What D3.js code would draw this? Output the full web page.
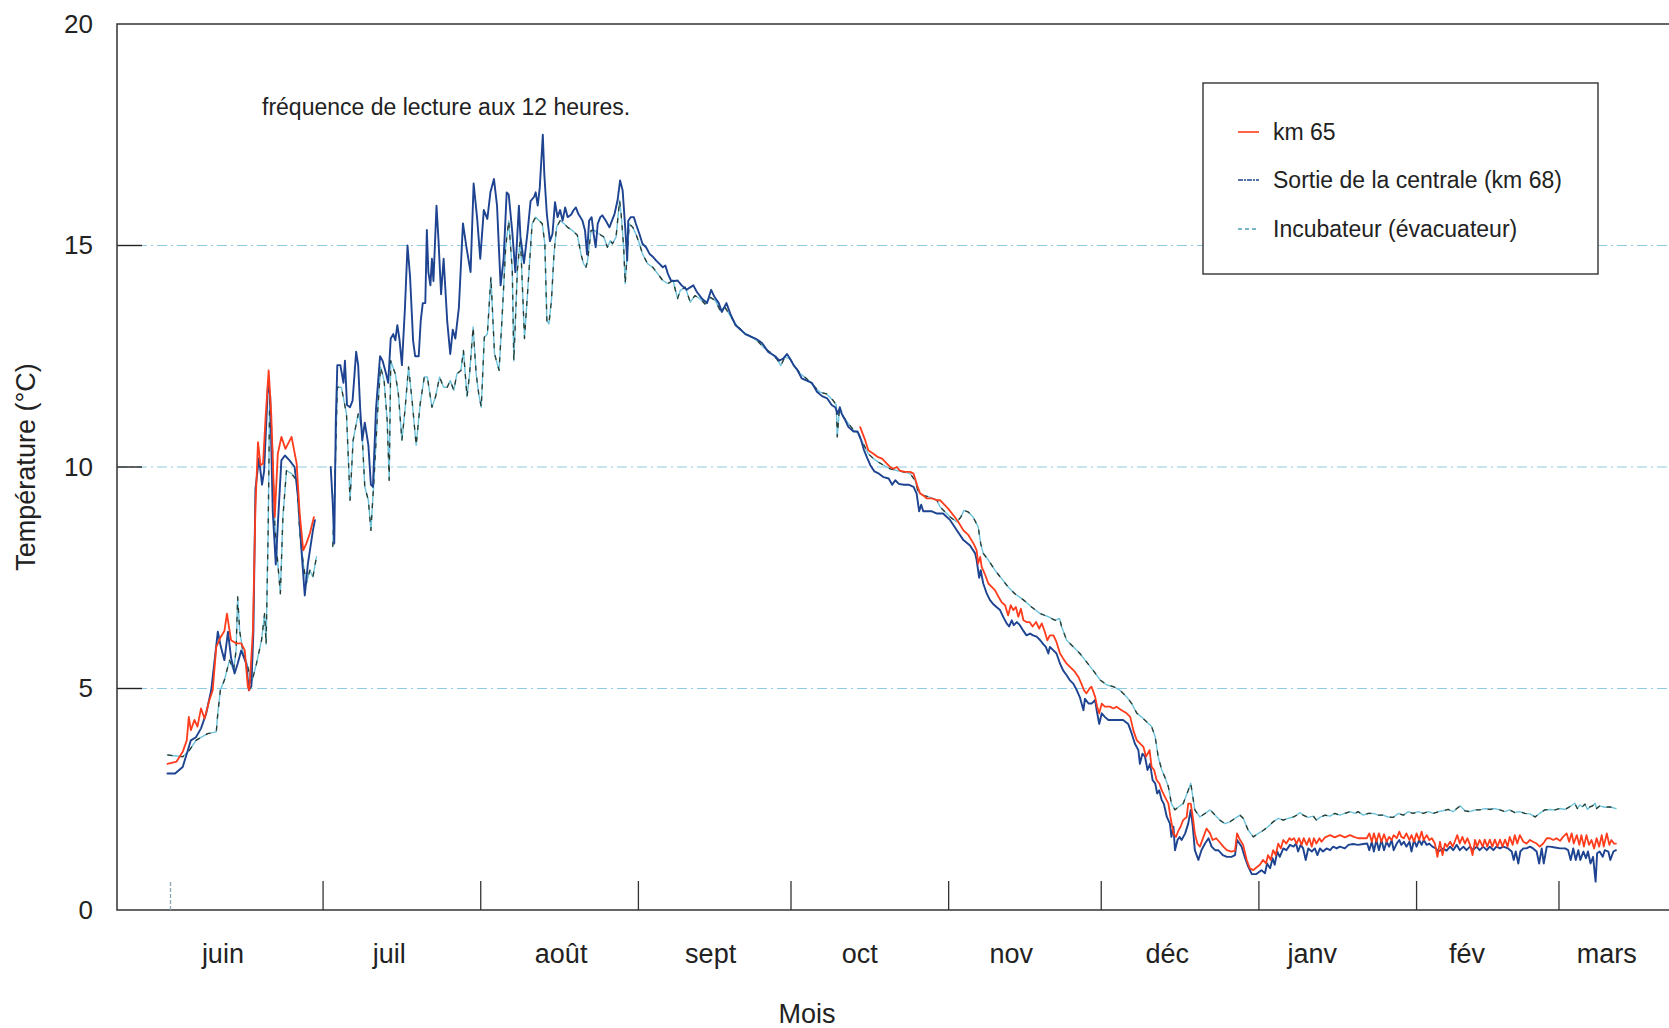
<!DOCTYPE html>
<html><head><meta charset="utf-8">
<script src="https://cdn.jsdelivr.net/npm/d3@7"></script>
<style>
html,body{margin:0;padding:0;background:#fff;}
svg{display:block;font-family:"Liberation Sans",Arial,Helvetica,sans-serif;}
</style></head><body>
<svg id="chart" width="1669" height="1028"></svg>
<script>
// Relevés de température, [jour depuis le 1er juin, °C] ; null = interruption des relevés
const km65 = [
[-0.5,3.3],[1.3,3.35],[2.5,3.57],[3.3,3.83],[3.7,4.36],[4.1,4.06],[4.8,4.29],[5.4,4.14],[6.1,4.55],[6.8,4.32],[7.75,4.74],[8.4,4.96],[9.1,5.94],[10.0,6.17],[10.7,6.3],[11.2,6.69],[12.0,6.09],[13.0,6.02],[14.0,6.02],[14.7,5.86],[15.3,5.04],[15.6,4.96],[16.3,6.3],[16.8,9.1],[17.3,10.56],[17.8,10.04],[18.3,10.08],[18.8,11.13],[19.4,12.18],[19.9,11.2],[20.6,8.87],[21.2,10.3],[21.9,10.68],[22.7,10.41],[23.9,10.68],[24.9,10.08],[25.5,8.95],[26.2,8.12],[26.8,8.27],[27.5,8.5],[28.3,8.87],
[30,null],
[135.7,10.9],[136.7,10.6],[137.3,10.38],[138.3,10.3],[139.1,10.23],[140.0,10.19],[140.9,10.08],[141.6,10.0],[142.2,9.96],[142.9,10.0],[143.5,9.92],[144.5,9.89],[145.5,9.89],[146.2,9.85],[146.5,9.74],[147.0,9.55],[147.5,9.4],[148.1,9.36],[148.8,9.29],[149.8,9.29],[150.8,9.25],
[151.4,9.25],[153.0,9.06],[154.3,8.87],[155.0,8.76],[156.0,8.57],[157.0,8.46],[158.0,8.27],[158.6,8.12],[158.9,7.82],[159.3,7.97],[159.6,7.74],[160.2,7.59],[160.9,7.37],[161.6,7.29],[162.2,7.22],[162.9,7.07],[163.5,6.95],[164.2,6.88],[164.8,6.65],[165.3,6.88],[165.8,6.77],[166.3,6.84],[166.8,6.62],[167.3,6.8],[167.8,6.54],[168.4,6.5],[169.0,6.5],[169.6,6.4],[170.3,6.5],[170.9,6.35],[171.4,6.47],[172.0,6.28],[172.5,6.09],[173.0,6.2],[173.7,6.2],[174.3,6.05],[175.0,5.79],[175.6,5.68],[176.3,5.56],[177.3,5.45],[177.9,5.38],[178.6,5.26],[179.3,5.08],[179.7,4.96],[180.2,4.89],[180.8,5.0],[181.2,5.04],[181.9,4.81],[182.3,4.59],[182.7,4.44],[183.2,4.66],[183.8,4.59],[184.8,4.59],[185.5,4.55],[186.1,4.59],[187.1,4.51],[188.1,4.44],[188.8,4.36],[189.4,4.06],[190.1,3.83],[190.7,3.76],[191.4,3.68],[191.9,3.46],[192.6,3.61],[193.0,3.23],[193.5,3.16],[194.0,2.93],[194.5,2.86],[195.0,2.7],[195.6,2.56],[196.3,2.4],[196.7,2.1],[197.3,1.73],[197.8,1.65],[198.3,1.8],[198.7,1.88],[199.2,2.03],[199.9,2.1],[200.2,2.4],[200.7,2.4],[201.1,2.1],[201.5,1.73],[202.0,1.5],[202.5,1.43],[203.2,1.65],[203.8,1.84],[204.5,1.73],[205.0,1.58],[205.7,1.62],[206.3,1.54],[207.1,1.43],[207.8,1.35],[208.7,1.32],
[209.4,1.34],[209.8,1.73],[210.4,1.58],[211.0,1.47],[211.7,1.13],[212.3,0.94],[213.0,0.9],[213.6,0.96],[214.3,1.02],[214.9,1.13],[215.5,1.05],[215.9,1.24],[216.4,1.13],[216.9,1.35],[217.4,1.24],[217.9,1.5],[218.4,1.39],[218.9,1.58],[219.5,1.5],[220.1,1.62],[220.5,1.58],[221.0,1.62],[221.5,1.5],[222.0,1.62],[222.5,1.47],[222.9,1.62],[223.5,1.47],[224.0,1.62],[224.5,1.43],[224.9,1.62],[225.4,1.5],[226.0,1.62],[226.4,1.54],[227.1,1.64],[228.1,1.69],[229.0,1.64],[230.0,1.69],[231.0,1.64],[232.0,1.69],[232.8,1.65],[233.6,1.62],[234.6,1.62],[235.3,1.62],[235.8,1.73],[236.3,1.54],[236.7,1.73],[237.2,1.54],[237.7,1.73],[238.2,1.54],[238.7,1.71],[239.2,1.54],[239.7,1.65],[240.2,1.58],[240.6,1.69],[241.2,1.62],[241.7,1.77],[242.1,1.65],[242.6,1.62],[243.1,1.73],[243.7,1.58],[244.1,1.69],[244.6,1.54],[245.1,1.73],[245.6,1.58],[246.1,1.77],[246.5,1.58],[247.1,1.69],[247.6,1.58],[248.1,1.62],[248.7,1.5],[249.2,1.2],[249.7,1.54],[250.2,1.24],[250.7,1.5],[251.1,1.43],[251.7,1.54],[252.2,1.43],[252.6,1.54],[253.1,1.69],[253.6,1.5],[254.1,1.65],[254.6,1.5],[255.1,1.62],[255.6,1.47],[256.1,1.24],[256.6,1.58],[257.0,1.43],[257.5,1.58],[258.1,1.43],[258.5,1.59],[259.0,1.43],[259.5,1.59],[260.0,1.43],[260.5,1.59],[261.0,1.43],[261.5,1.59],[262.0,1.43],[262.5,1.59],[263.0,1.43],[263.4,1.65],[264.0,1.47],[264.4,1.69],[264.9,1.5],[265.4,1.69],[266.1,1.54],[266.7,1.5],[267.4,1.58],[268.0,1.54],[268.7,1.5],[269.3,1.43],[270.0,1.5],[270.7,1.62],[271.3,1.62],[272.0,1.58],[272.6,1.62],[273.3,1.56],[273.9,1.65],[274.6,1.73],[275.1,1.54],[275.6,1.73],[276.0,1.5],[276.6,1.69],[277.1,1.47],[277.5,1.69],[278.0,1.43],[278.5,1.69],[279.0,1.47],[279.5,1.58],[280.0,1.39],[280.5,1.62],[281.0,1.43],[281.5,1.69],[281.9,1.43],[282.5,1.73],[283.0,1.47],[283.4,1.58],[283.9,1.5],[284.3,1.5]
];

const sortieCentrale = [
[-0.5,3.08],[1.0,3.08],[2.5,3.23],[3.5,3.6],[4.1,3.83],[5.1,3.9],[6.1,4.1],[7.1,4.43],[8.1,4.96],[8.7,5.56],[9.4,6.28],[10.0,5.94],[10.7,5.64],[11.4,6.28],[12.0,5.7],[12.7,5.34],[13.3,5.56],[14.0,5.86],[15.0,5.56],[15.5,4.96],[16.0,5.05],[16.4,6.3],[16.8,9.5],[17.5,10.2],[18.1,9.6],[18.5,9.9],[19.3,11.95],[19.7,11.6],[20.2,9.0],[20.8,7.8],[21.2,8.7],[21.9,10.15],[22.6,10.26],[23.5,10.15],[24.5,10.0],[25.2,9.3],[25.8,8.2],[26.5,7.1],[27.1,7.8],[28.1,8.57],[28.5,8.8],
[30,null],
[31.6,10.0],[32.0,9.17],[32.3,8.27],[32.6,11.05],[32.9,12.3],[33.5,12.3],[34.1,11.9],[34.4,12.4],[34.8,11.4],[35.4,11.35],[35.9,11.5],[36.6,12.6],[37.0,12.3],[37.4,11.3],[37.8,10.6],[38.3,11.0],[39.0,10.5],[39.5,9.6],[39.9,9.55],[40.5,11.3],[41.3,12.5],[41.8,12.4],[42.5,12.1],[42.9,11.9],[43.4,12.9],[43.9,13.0],[44.3,12.86],[44.7,13.2],[45.1,12.9],[45.6,12.3],[46.2,13.6],[46.7,15.0],[47.2,14.3],[47.8,12.85],[48.2,12.5],[48.9,12.5],[49.3,13.3],[49.7,13.7],[50.2,13.7],[50.5,15.35],[50.8,14.4],[51.2,14.1],[51.5,14.7],[51.8,14.2],[52.4,15.9],[52.8,15.1],[53.3,13.9],[53.8,14.7],[54.5,13.3],[55.1,12.55],[55.6,13.1],[56.1,12.9],[56.8,13.6],[57.6,15.5],[58.3,14.95],[59.1,14.4],[59.7,16.4],[60.4,15.6],[61.0,14.7],[61.7,15.8],[62.4,15.6],[63.0,16.2],[63.7,16.5],[64.3,15.9],[65.0,14.1],[65.6,14.7],[66.2,16.2],[66.6,16.15],[67.3,15.3],[67.9,14.4],[68.6,15.9],[68.9,15.2],[69.6,14.6],[70.3,15.3],[70.9,16.0],[71.6,16.1],[71.9,16.2],[72.3,15.9],[72.7,16.3],
[73.3,17.5],[73.6,16.6],[74.1,15.7],[74.7,15.1],[75.2,15.26],[75.7,15.98],[76.2,15.64],[76.7,15.8],[77.2,15.56],[77.7,15.86],[78.2,15.64],[78.9,15.7],[79.3,15.79],[79.8,15.86],[80.3,15.71],[80.7,15.64],[81.1,15.56],[81.6,15.34],[82.0,14.8],[82.4,15.56],[82.9,15.64],[83.3,15.26],[83.7,14.96],[84.1,15.49],[84.6,15.64],[85.0,15.68],[85.7,15.56],[86.4,15.41],[86.9,15.56],[87.4,15.71],[88.0,16.02],[88.5,16.47],[89.0,16.24],[89.5,15.41],[89.9,14.66],[90.1,15.56],[90.6,15.64],[91.2,15.64],[91.6,15.49],[92.3,15.26],[92.9,15.04],[93.6,14.96],[94.3,14.81],[95.0,14.74],[95.6,14.66],[96.2,14.59],[96.9,14.51],[97.4,14.55],[97.9,14.36],[98.5,14.21],[99.2,14.2],[99.8,14.21],
[100.6,14.1],[101.6,14.0],[102.2,14.05],[102.9,14.1],[103.6,13.95],[104.6,13.8],[105.6,13.7],[106.4,14.0],[107.0,13.85],[107.9,13.7],[108.5,13.5],[109.4,13.7],[110.2,13.45],[111.2,13.2],[112.2,13.1],[113.1,13.0],[114.1,12.95],[115.1,12.9],[115.8,12.85],[116.4,12.8],[117.0,12.7],[117.6,12.6],[118.3,12.55],[119.0,12.5],[119.8,12.4],[120.6,12.45],[121.3,12.55],[121.9,12.45],[122.6,12.3],[123.3,12.2],[124.2,12.0],[125.2,11.95],[126.2,11.9],[127.2,11.7],[128.2,11.6],[129.2,11.55],[130.1,11.4],[130.8,11.35],[131.3,11.2],[131.7,11.35],[132.1,11.2],[132.8,11.05],[133.4,10.9],[134.4,10.8],[135.2,10.8],[135.9,10.6],[136.4,10.4],[137.1,10.2],[137.7,10.04],[138.5,9.9],[139.4,9.85],[140.3,9.77],[141.3,9.74],[142.0,9.6],[142.6,9.7],[143.3,9.62],[144.3,9.6],[145.2,9.6],[146.2,9.55],[146.8,9.4],[147.3,9.0],[147.7,9.15],[148.1,9.0],[148.8,9.0],[149.8,9.0],[150.8,8.95],
[152.0,8.95],[153.4,8.8],[154.7,8.57],[156.0,8.35],[157.3,8.23],[158.3,8.05],[158.6,7.9],[159.1,7.5],[159.4,7.67],[159.9,7.37],[160.6,7.14],[161.2,7.0],[161.9,6.9],[162.5,6.84],[163.2,6.77],[163.9,6.6],[164.5,6.47],[165.0,6.4],[165.5,6.54],[165.9,6.43],[166.5,6.5],[167.1,6.43],[167.8,6.3],[168.4,6.2],[169.1,6.24],[169.7,6.2],[170.4,6.17],[171.1,6.09],[171.7,6.0],[172.2,5.94],[172.7,5.79],[173.0,5.94],[173.7,5.86],[174.3,5.79],[175.0,5.56],[175.6,5.41],[176.3,5.3],[176.9,5.19],[177.6,5.11],[178.3,4.96],[178.9,4.8],[179.6,4.51],[179.9,4.77],[180.6,4.66],[181.2,4.66],[181.9,4.74],[182.2,4.51],[182.7,4.2],[183.2,4.44],[183.8,4.36],[184.5,4.29],[185.5,4.29],[186.5,4.29],[187.4,4.29],[188.4,4.2],[189.1,3.98],[189.7,3.76],[190.4,3.61],[190.7,3.3],[191.2,3.53],[191.7,3.46],[192.2,3.16],[192.7,3.3],[193.2,2.93],[193.7,2.86],[194.1,2.63],[194.5,2.7],[195.0,2.48],[195.4,2.4],[196.0,2.1],[196.6,1.95],[196.9,1.65],[197.3,1.88],[197.6,1.35],[198.1,1.58],[198.5,1.65],[198.9,1.58],[199.6,1.73],[200.2,1.95],[200.7,2.26],[201.1,1.88],[201.5,1.35],[202.2,1.13],[202.8,1.35],[203.5,1.5],[204.2,1.62],[204.8,1.43],[205.5,1.35],[206.1,1.35],[207.0,1.24],[207.8,1.2],[208.7,1.2],
[209.4,1.24],[209.8,1.58],[210.7,1.43],[211.3,1.2],[212.0,0.98],[212.7,0.81],[213.6,0.81],[214.6,0.9],[215.3,0.83],[215.7,1.05],[216.3,0.94],[216.8,1.17],[217.2,1.02],[217.7,1.32],[218.2,1.2],[218.9,1.39],[219.5,1.35],[220.2,1.47],[220.9,1.43],[221.4,1.5],[221.8,1.32],[222.3,1.47],[222.8,1.39],[223.3,1.13],[223.8,1.39],[224.5,1.32],[225.1,1.39],[225.6,1.24],[226.1,1.39],[226.7,1.32],[227.4,1.39],[228.1,1.35],[228.7,1.43],[229.4,1.39],[230.0,1.43],[231.0,1.39],[231.7,1.47],[232.6,1.49],[233.6,1.47],[234.6,1.49],[235.4,1.5],[235.8,1.35],[236.3,1.54],[236.7,1.32],[237.2,1.58],[237.7,1.35],[238.2,1.58],[238.7,1.35],[239.2,1.54],[239.7,1.43],[240.2,1.58],[240.6,1.35],[241.2,1.5],[241.7,1.58],[242.1,1.47],[242.6,1.54],[243.1,1.43],[243.7,1.54],[244.1,1.32],[244.6,1.58],[245.1,1.43],[245.6,1.58],[246.1,1.47],[246.5,1.58],[247.1,1.47],[247.6,1.5],[248.2,1.43],[248.9,1.39],[249.4,1.32],[249.8,1.35],[250.3,1.39],[251.0,1.34],[251.7,1.43],[252.3,1.35],[253.0,1.47],[253.6,1.35],[254.3,1.43],[254.9,1.35],[255.6,1.43],[256.2,1.35],[256.9,1.43],[257.5,1.35],[258.2,1.43],[258.9,1.35],[259.5,1.43],[260.2,1.35],[260.8,1.43],[261.5,1.39],[262.1,1.43],[263.1,1.39],[263.8,1.32],[264.2,1.13],[264.6,1.32],[265.1,1.05],[265.5,1.32],[266.1,1.39],[266.7,1.39],[267.4,1.43],[268.0,1.39],[268.7,1.32],[269.2,1.05],[269.7,1.39],[270.1,1.05],[270.7,1.43],[271.3,1.43],[272.3,1.41],[273.3,1.39],[274.3,1.39],[274.9,1.35],[275.4,1.13],[275.9,1.39],[276.4,1.13],[276.9,1.35],[277.3,1.13],[277.9,1.32],[278.4,1.17],[278.8,1.32],[279.3,1.05],[279.8,1.2],[280.3,0.64],[280.6,1.28],[281.1,1.32],[281.7,1.2],[282.1,1.35],[282.8,1.32],[283.2,1.13],[283.8,1.32],[284.3,1.35]
];

const incubateur = [
[-0.5,3.5],[2.5,3.46],[3.8,3.6],[5.1,3.83],[7.4,3.98],[9.1,4.02],[9.4,4.44],[9.9,4.96],[10.7,5.19],[11.7,5.64],[12.5,5.41],[13.0,5.86],[13.3,7.07],[13.7,6.3],[14.3,5.86],[15.3,5.49],[16.0,5.11],[17.0,5.56],[18.0,6.09],[18.6,6.69],[18.9,6.0],[19.3,8.57],[19.6,11.6],[20.1,10.6],[20.6,8.7],[21.2,7.82],[21.7,7.14],[22.2,8.87],[22.9,9.92],[23.9,9.85],[24.9,9.7],[25.5,8.57],[26.2,7.82],[26.8,7.37],[27.5,7.67],[28.1,7.52],[28.8,7.97],
[30,null],
[32.0,8.2],[32.4,9.55],[32.9,11.8],[33.7,11.8],[34.7,11.2],[35.4,9.25],[36.0,10.6],[37.0,11.2],[37.7,10.9],[38.3,9.55],[39.0,9.25],[39.5,8.57],[40.1,9.7],[40.8,11.2],[41.4,12.26],[42.1,11.95],[42.7,11.05],[43.1,9.7],[43.4,12.4],[44.3,12.1],[44.9,11.65],[45.6,10.6],[46.2,11.28],[46.9,12.26],[47.6,11.5],[48.4,10.49],[49.2,11.43],[50.0,12.03],[50.6,12.03],[51.5,11.35],[52.2,11.58],[53.0,12.03],[53.8,11.8],[54.5,11.8],[55.1,11.95],[55.8,11.73],[56.4,12.1],[57.2,12.18],[57.7,12.63],[58.4,11.58],[58.9,12.1],[59.6,13.16],[60.2,12.1],[60.7,11.65],[61.2,11.35],[61.8,12.93],[62.4,13.0],[63.1,14.29],[63.8,12.56],[64.7,12.18],[65.3,13.38],[66.0,14.96],[66.6,15.56],[67.3,14.44],[67.6,12.4],[68.3,14.44],[68.9,15.19],[69.7,12.9],
[70.6,14.44],[71.2,15.49],[71.9,15.64],[72.6,15.56],[73.2,15.49],[73.7,15.04],[74.1,13.3],[74.5,13.23],[75.0,13.76],[75.5,14.81],[76.0,15.41],[76.7,15.56],[77.5,15.49],[78.2,15.41],[79.1,15.34],[80.1,15.23],[80.8,14.81],[81.3,14.59],[81.8,14.51],[82.1,14.66],[82.8,15.34],[83.4,15.34],[84.4,15.26],[85.3,15.19],[86.0,14.96],[86.6,15.11],[87.0,15.04],[87.7,15.19],[88.4,16.02],[88.7,15.71],[89.2,14.96],[89.5,14.14],[89.9,14.81],[90.3,15.49],[91.0,15.41],[91.6,15.26],[92.3,15.04],[92.9,14.81],[93.9,14.59],[94.9,14.51],[95.9,14.36],[96.9,14.21],[97.9,14.14],[98.9,14.21],[99.8,13.8],
[100.3,13.98],[101.3,14.06],[102.3,13.72],[103.2,13.87],[104.2,13.8],[105.2,13.68],[106.2,13.83],[107.2,13.76],[108.2,13.53],[109.1,13.61],[110.1,13.42],[111.4,13.2],[112.7,13.05],[114.1,12.95],[115.4,12.86],[116.7,12.7],[118.0,12.59],[119.3,12.44],[120.1,12.29],[120.9,12.48],[121.9,12.44],[122.9,12.26],[123.9,12.11],[125.2,11.99],[126.5,11.84],[127.8,11.69],[129.1,11.65],[130.4,11.5],[131.0,11.4],[131.2,10.68],[131.6,11.28],[132.4,11.13],[133.4,10.98],[134.4,10.83],[135.4,10.75],[136.3,10.53],[137.3,10.3],[138.3,10.19],[139.3,10.11],[140.3,10.04],[141.6,9.96],[142.9,9.92],[144.2,9.89],[145.5,9.85],[146.5,9.7],[147.1,9.44],[148.1,9.36],[149.4,9.32],[150.8,9.25],
[151.4,9.1],[153.4,8.87],[154.7,8.76],[155.5,8.87],[156.1,9.02],[157.0,8.98],[157.9,8.87],[158.9,8.65],[159.4,8.27],[159.9,8.05],[160.9,7.9],[162.2,7.67],[163.5,7.48],[164.8,7.29],[166.1,7.14],[167.8,7.0],[169.4,6.84],[171.1,6.69],[172.7,6.62],[174.0,6.54],[174.9,6.58],[175.3,6.4],[176.3,6.09],[177.6,5.94],[178.9,5.79],[180.2,5.6],[181.5,5.41],[182.9,5.19],[184.2,5.08],[185.5,5.04],[186.8,4.96],[188.1,4.81],[189.1,4.66],[190.1,4.44],[191.0,4.36],[192.0,4.25],[193.0,4.14],[193.7,3.91],[194.3,3.46],[195.0,3.16],[195.6,3.0],[196.3,2.78],[196.9,2.4],[197.6,2.26],[198.3,2.33],[199.2,2.4],[200.2,2.7],[200.7,2.86],[201.1,2.56],[201.5,2.26],[202.5,2.1],[203.5,2.18],[204.5,2.26],[205.5,2.14],[206.4,2.03],[207.4,1.95],[208.4,1.99],
[209.4,2.07],[210.4,2.14],[211.0,2.07],[212.0,1.8],[213.0,1.65],[214.0,1.73],[215.0,1.8],[215.9,1.88],[216.9,1.99],[217.9,2.07],[218.9,2.03],[219.9,2.07],[220.9,2.1],[221.5,2.14],[222.2,2.2],[222.8,2.14],[223.8,2.09],[224.8,2.12],[225.4,2.03],[226.1,2.09],[227.1,2.14],[228.1,2.12],[229.0,2.18],[230.0,2.14],[231.0,2.18],[232.0,2.22],[233.0,2.18],[233.6,2.22],[234.6,2.14],[235.6,2.18],[236.6,2.18],[237.6,2.14],[238.5,2.14],[239.5,2.1],[240.5,2.09],[241.5,2.18],[242.5,2.14],[243.5,2.22],[244.4,2.18],[245.4,2.22],[246.4,2.18],[247.4,2.22],[248.4,2.18],[249.4,2.22],[250.3,2.24],[251.3,2.27],[252.3,2.22],[253.0,2.29],[253.7,2.35],[254.6,2.24],[255.6,2.22],[256.6,2.26],[257.5,2.26],[258.5,2.29],[259.5,2.27],[260.5,2.29],[261.5,2.26],[262.5,2.22],[263.4,2.26],[264.4,2.2],[265.4,2.22],[266.4,2.18],[267.4,2.17],[268.4,2.1],[269.3,2.18],[270.3,2.26],[271.3,2.27],[272.3,2.26],[273.3,2.29],[274.3,2.27],[275.2,2.33],[276.2,2.41],[276.7,2.29],[277.2,2.37],[277.7,2.33],[278.2,2.39],[278.7,2.27],[279.2,2.33],[279.7,2.35],[280.2,2.41],[280.5,2.29],[281.1,2.35],[282.1,2.32],[283.1,2.33],[284.3,2.29]
];

// Axe des temps : noms des mois et jour (depuis le 1er juin) où chaque nom est écrit
const moisNoms = ["juin","juil","août","sept","oct","nov","déc","janv","fév","mars"];
const moisEtiquetteJour = [10.4, 43.1, 76.9, 106.3, 135.6, 165.4, 196.1, 224.6, 255.0, 282.5];
const yTicks = [0, 5, 10, 15, 20];
const seriesNoms = ["km 65", "Sortie de la centrale (km 68)", "Incubateur (évacuateur)"];
const annotation = "fréquence de lecture aux 12 heures.";

const debut = Date.UTC(1993, 5, 1);
const enDate = j => new Date(debut + j * 864e5);

const svg = d3.select("#chart");
const gauche = 117, droite = 1669, haut = 24, bas = 910;

const x = d3.scaleUtc().domain([enDate(-10.42), enDate(294.73)]).range([gauche, droite]);
const y = d3.scaleLinear().domain([0, 20]).range([bas, haut]);

// Lignes de repère horizontales
svg.append("g").selectAll("line").data(yTicks.filter(v => v > 0 && v < 20)).join("line")
  .attr("x1", gauche).attr("x2", droite)
  .attr("y1", d => y(d)).attr("y2", d => y(d))
  .attr("stroke", "#8fcbe0").attr("stroke-width", 1.2)
  .attr("stroke-dasharray", "10,4,2,4");

// Axe vertical : étiquettes et petites graduations intérieures
const axeY = svg.append("g").attr("transform", `translate(${gauche},0)`)
  .call(d3.axisLeft(y).tickValues(yTicks).tickSize(0).tickPadding(24).tickFormat(d3.format("d")));
axeY.select(".domain").remove();
axeY.selectAll("text").attr("font-size", 26).attr("fill", "#222")
  .attr("font-family", "'Liberation Sans', Arial, sans-serif");
svg.append("g").selectAll("line").data(yTicks.filter(v => v > 0 && v < 20)).join("line")
  .attr("x1", gauche).attr("x2", gauche + 25)
  .attr("y1", d => y(d)).attr("y2", d => y(d))
  .attr("stroke", "#222").attr("stroke-width", 1.4);

// Cadre
svg.append("path")
  .attr("d", `M${droite},${haut}H${gauche}V${bas}H${droite}`)
  .attr("fill", "none").attr("stroke", "#333").attr("stroke-width", 1.5);

// Graduations des débuts de mois
const debutsMois = d3.utcMonth.range(enDate(0), enDate(274));
const axeX = svg.append("g").attr("transform", `translate(0,${bas})`)
  .call(d3.axisTop(x).tickValues(debutsMois).tickSize(29).tickFormat(""));
axeX.select(".domain").remove();
axeX.selectAll(".tick line").attr("stroke", "#333").attr("stroke-width", 1.3);
axeX.select(".tick line").attr("stroke", "#8aa4b0").attr("stroke-dasharray", "4,2");

// Noms des mois
svg.append("g").selectAll("text").data(moisNoms).join("text")
  .attr("x", (d, i) => x(enDate(moisEtiquetteJour[i])))
  .attr("y", 963)
  .attr("text-anchor", "middle").attr("font-size", 27).attr("fill", "#222")
  .text(d => d);

svg.append("text").attr("x", 807).attr("y", 1023)
  .attr("text-anchor", "middle").attr("font-size", 27).attr("fill", "#222").text("Mois");

svg.append("text").attr("transform", "translate(35,467) rotate(-90)")
  .attr("text-anchor", "middle").attr("font-size", 27).attr("fill", "#222")
  .text("Température (°C)");

svg.append("text").attr("x", 262).attr("y", 115)
  .attr("font-size", 23).attr("fill", "#222").text(annotation);

// Courbes
const ligne = d3.line()
  .defined(d => d[1] !== null)
  .x(d => x(enDate(d[0])))
  .y(d => y(d[1]));

const courbes = svg.append("g").attr("fill", "none")
  .attr("stroke-linejoin", "round").attr("stroke-linecap", "round");

// incubateur : trait mixte clair/foncé
courbes.append("path").datum(incubateur).attr("d", ligne)
  .attr("stroke", "#6ec3dc").attr("stroke-width", 1.4);
courbes.append("path").datum(incubateur).attr("d", ligne)
  .attr("stroke", "#2e3a2c").attr("stroke-width", 1.3)
  .attr("stroke-dasharray", "5,7").attr("stroke-linecap", "butt");

courbes.append("path").datum(sortieCentrale).attr("d", ligne)
  .attr("stroke", "#1d4391").attr("stroke-width", 1.9);

courbes.append("path").datum(km65).attr("d", ligne)
  .attr("stroke", "#ff3c1c").attr("stroke-width", 1.8);

// Légende
const leg = svg.append("g");
leg.append("rect").attr("x", 1203).attr("y", 83).attr("width", 395).attr("height", 191)
  .attr("fill", "#fff").attr("stroke", "#333").attr("stroke-width", 1.4);
const legY = [132, 180, 229];
const legStyles = [
  {c: "#ff3c1c", dash: null},
  {c: "#1d4391", dash: "5,1,2,1"},
  {c: "#4f9fb8", dash: "4,3"}
];
seriesNoms.forEach((nom, i) => {
  leg.append("line").attr("x1", 1238).attr("x2", 1259)
    .attr("y1", legY[i]).attr("y2", legY[i])
    .attr("stroke", legStyles[i].c).attr("stroke-width", 1.6)
    .attr("stroke-dasharray", legStyles[i].dash);
  leg.append("text").attr("x", 1273).attr("y", legY[i]).attr("dy", "0.36em")
    .attr("font-size", 23).attr("fill", "#222").text(nom);
});
</script>
</body></html>
